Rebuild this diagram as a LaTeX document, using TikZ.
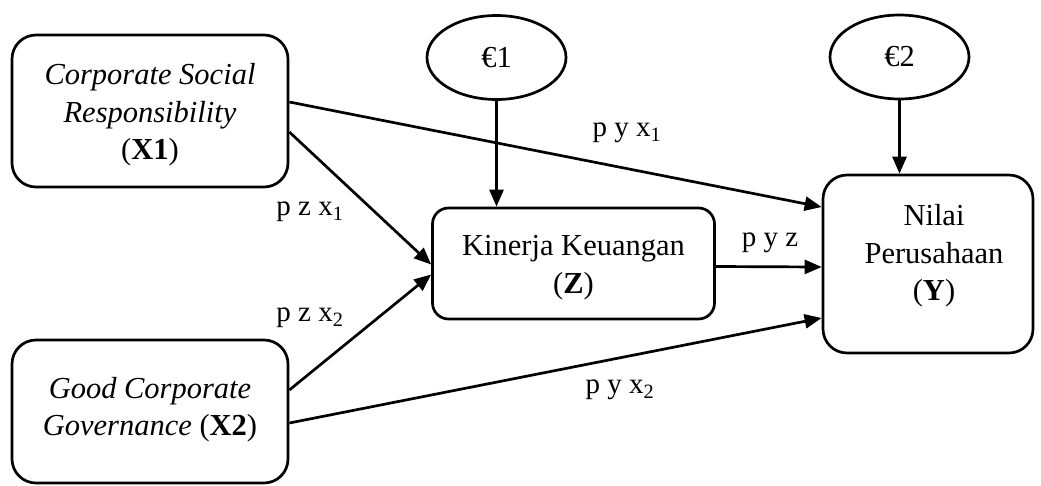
\documentclass[tikz,border=0pt]{standalone}
\usepackage{fontspec}
\setmainfont{Liberation Serif}
\usetikzlibrary{arrows.meta,shapes.geometric,calc}
\begin{document}
\begin{tikzpicture}[x=1pt,y=-1pt,
  box/.style={draw, line width=2.7pt, rounded corners=24pt, inner sep=0pt},
  txt/.style={align=center, inner sep=0pt, font=\fontsize{30.5}{37.5}\selectfont},
  errnode/.style={draw, ellipse, line width=2.7pt, inner sep=0pt,
    minimum width=139pt, minimum height=84pt, font=\fontsize{30.5}{37}\selectfont},
  arr/.style={line width=2.7pt, -{Triangle[length=17pt,width=14pt]}},
  lbl/.style={font=\fontsize{29}{34}\selectfont, inner sep=0pt}]
\useasboundingbox (0,0) rectangle (1041,485);
\fill[white] (0,0) rectangle (1041,485);

% boxes
\node[box, minimum width=276pt, minimum height=152pt] (X1) at (150,111) {};
\node[box, minimum width=276pt, minimum height=143pt] (X2) at (150,411.5) {};
\node[box, rounded corners=16pt, minimum width=282pt, minimum height=111pt] (Z) at (573.5,263.5) {};
\node[box, minimum width=210pt, minimum height=178pt] (Y) at (928,264) {};
\node[errnode] (e1) at (496.5,57.5) {€1};
\node[errnode] (e2) at (899.5,57) {€2};

% box texts
\node[txt] (X1t) at ([yshift=-4pt]X1.center)
  {\textit{Corporate Social}\\\textit{Responsibility}\\(\textbf{X1})};
\node[txt] (X2t) at ([yshift=2pt]X2.center)
  {\textit{Good Corporate}\\\textit{Governance} (\textbf{X2})};
\node[txt] (Zt) at ([yshift=-4pt]Z.center)
  {Kinerja Keuangan\\(\textbf{Z})};
\node[txt] (Yt) at ([xshift=6pt,yshift=8pt]Y.center)
  {Nilai\\Perusahaan\\(\textbf{Y})};

% connectors
\draw[arr] (e1.south) -- (e1.south |- Z.north);
\draw[arr] (e2.south) -- (e2.south |- Y.north);
\draw[arr] ([yshift=-21pt]X1.east) -- ([yshift=-1pt]Z.west);
\draw[arr] ([yshift=9pt]X1.east) -- ([yshift=57pt]Y.west);
\draw[arr] ([yshift=-3pt]Z.east) -- ([yshift=-3pt]Y.west);
\draw[arr] ([yshift=21.5pt]X2.east) -- ([yshift=-11pt]Z.west);
\draw[arr] ([yshift=-11.5pt]X2.east) -- ([yshift=-54pt]Y.west);

% labels
\node[lbl] (lyx1) at (627,133) {p y x\textsubscript{1}};
\node[lbl] (lzx1) at (310,212) {p z x\textsubscript{1}};
\node[lbl] (lyz) at (770,243) {p y z};
\node[lbl] (lzx2) at (310,318) {p z x\textsubscript{2}};
\node[lbl] (lyx2) at (620,390) {p y x\textsubscript{2}};
\end{tikzpicture}
\end{document}
